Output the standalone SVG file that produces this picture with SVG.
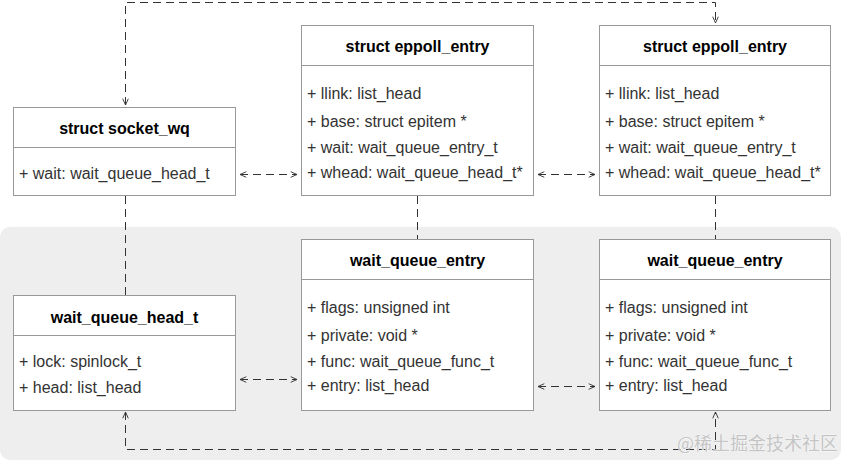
<svg xmlns="http://www.w3.org/2000/svg" width="843" height="461" viewBox="0 0 843 461">
<defs>
<style>
.box{fill:#fff;stroke:#999;stroke-width:1}
.div{stroke:#999;stroke-width:1}
.title{font-family:"Liberation Sans",Arial,sans-serif;font-size:16px;font-weight:bold;fill:#000;text-anchor:middle}
.f{font-family:"Liberation Sans",Arial,sans-serif;font-size:16px;fill:#333}
.c{fill:none;stroke:#333;stroke-width:1;stroke-dasharray:8 5}
.wm{font-family:"Noto Sans CJK SC",sans-serif;font-size:18px;fill:#c4c4c4;stroke:#fff;stroke-width:0.6;paint-order:stroke}
</style>
<marker id="ah" viewBox="0 0 10 10" refX="10" refY="5" markerWidth="7" markerHeight="7" orient="auto-start-reverse" markerUnits="userSpaceOnUse">
<path d="M1,1 L10,5 L1,9" fill="none" stroke="#333" stroke-width="1.3"/>
</marker>
</defs>
<rect x="0" y="227" width="841" height="233" rx="10" fill="#eeeeee"/>
<g id="connectors">
<path class="c" d="M125.5,105 V2.5 H715.5 V23" marker-start="url(#ah)" marker-end="url(#ah)"/>
<path class="c" d="M240,174.5 H297" marker-start="url(#ah)" marker-end="url(#ah)"/>
<path class="c" d="M538,174.5 H595" marker-start="url(#ah)" marker-end="url(#ah)"/>
<path class="c" d="M125.5,196 V295"/>
<path class="c" d="M417.5,196 V239"/>
<path class="c" d="M715.5,196 V239"/>
<path class="c" d="M240,379.5 H297" marker-start="url(#ah)" marker-end="url(#ah)"/>
<path class="c" d="M538,386.5 H595" marker-start="url(#ah)" marker-end="url(#ah)"/>
<path class="c" d="M125.5,412 V449.5 H715.5 V412" marker-start="url(#ah)" marker-end="url(#ah)"/>
</g>
<g id="socket_wq">
<rect class="box" x="13.5" y="107.5" width="222" height="88"/>
<line class="div" x1="13.5" y1="147.5" x2="235.5" y2="147.5"/>
<text class="title" x="124.5" y="134">struct socket_wq</text>
<text class="f" x="19" y="179">+ wait: wait_queue_head_t</text>
</g>
<g id="eppoll_entry_1">
<rect class="box" x="301.5" y="25.5" width="232" height="170"/>
<line class="div" x1="301.5" y1="65.5" x2="533.5" y2="65.5"/>
<text class="title" x="417.5" y="52">struct eppoll_entry</text>
<text class="f" x="307" y="99">+ llink: list_head</text>
<text class="f" x="307" y="127">+ base: struct epitem *</text>
<text class="f" x="307" y="153">+ wait: wait_queue_entry_t</text>
<text class="f" x="307" y="178">+ whead: wait_queue_head_t*</text>
</g>
<g id="eppoll_entry_2">
<rect class="box" x="599.5" y="25.5" width="231" height="170"/>
<line class="div" x1="599.5" y1="65.5" x2="830.5" y2="65.5"/>
<text class="title" x="715" y="52">struct eppoll_entry</text>
<text class="f" x="605" y="99">+ llink: list_head</text>
<text class="f" x="605" y="127">+ base: struct epitem *</text>
<text class="f" x="605" y="153">+ wait: wait_queue_entry_t</text>
<text class="f" x="605" y="178">+ whead: wait_queue_head_t*</text>
</g>
<g id="wait_queue_head_t">
<rect class="box" x="13.5" y="295.5" width="222" height="115"/>
<line class="div" x1="13.5" y1="335.5" x2="235.5" y2="335.5"/>
<text class="title" x="124.5" y="323">wait_queue_head_t</text>
<text class="f" x="19" y="367">+ lock: spinlock_t</text>
<text class="f" x="19" y="393">+ head: list_head</text>
</g>
<g id="wait_queue_entry_1">
<rect class="box" x="301.5" y="239.5" width="232" height="171"/>
<line class="div" x1="301.5" y1="279.5" x2="533.5" y2="279.5"/>
<text class="title" x="417.5" y="266">wait_queue_entry</text>
<text class="f" x="307" y="313">+ flags: unsigned int</text>
<text class="f" x="307" y="341">+ private: void *</text>
<text class="f" x="307" y="367">+ func: wait_queue_func_t</text>
<text class="f" x="307" y="391">+ entry: list_head</text>
</g>
<g id="wait_queue_entry_2">
<rect class="box" x="599.5" y="239.5" width="231" height="171"/>
<line class="div" x1="599.5" y1="279.5" x2="830.5" y2="279.5"/>
<text class="title" x="715" y="266">wait_queue_entry</text>
<text class="f" x="605" y="313">+ flags: unsigned int</text>
<text class="f" x="605" y="341">+ private: void *</text>
<text class="f" x="605" y="367">+ func: wait_queue_func_t</text>
<text class="f" x="605" y="391">+ entry: list_head</text>
</g>
<text class="wm" x="677" y="450">@稀土掘金技术社区</text>
</svg>
